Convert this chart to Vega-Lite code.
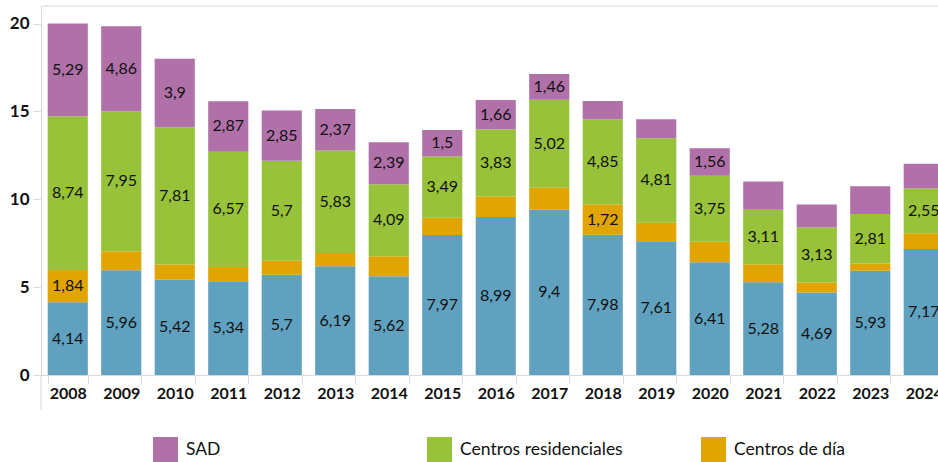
{
  "$schema": "https://vega.github.io/schema/vega-lite/v6.json",
  "width": 897,
  "height": 369,
  "autosize": {"type": "none"},
  "padding": {"left": 41, "top": 6, "right": 0, "bottom": 87},
  "background": "white",
  "config": {
    "view": {"stroke": null},
    "font": "Lato",
    "legend": {
      "orient": "none",
      "legendX": 112,
      "legendY": 431,
      "direction": "horizontal",
      "columns": 4,
      "gridAlign": "all",
      "columnPadding": 78,
      "padding": 0,
      "symbolType": "square",
      "symbolSize": 625,
      "symbolStrokeWidth": 0,
      "symbolOpacity": 1,
      "labelFont": "Lato",
      "labelFontSize": 17.5,
      "labelColor": "#111111",
      "labelOffset": 8,
      "labelLimit": 400,
      "title": null
    }
  },
  "layer": [
    {
      "data": {"name": "tabla", "values": [
        {"year": "2008", "serie": "Teleasistencia", "value": 4.14, "lbl": "4,14"},
        {"year": "2008", "serie": "Centros de día", "value": 1.84, "lbl": "1,84"},
        {"year": "2008", "serie": "Centros residenciales", "value": 8.74, "lbl": "8,74"},
        {"year": "2008", "serie": "SAD", "value": 5.29, "lbl": "5,29"},
        {"year": "2009", "serie": "Teleasistencia", "value": 5.96, "lbl": "5,96"},
        {"year": "2009", "serie": "Centros de día", "value": 1.08, "lbl": ""},
        {"year": "2009", "serie": "Centros residenciales", "value": 7.95, "lbl": "7,95"},
        {"year": "2009", "serie": "SAD", "value": 4.86, "lbl": "4,86"},
        {"year": "2010", "serie": "Teleasistencia", "value": 5.42, "lbl": "5,42"},
        {"year": "2010", "serie": "Centros de día", "value": 0.87, "lbl": ""},
        {"year": "2010", "serie": "Centros residenciales", "value": 7.81, "lbl": "7,81"},
        {"year": "2010", "serie": "SAD", "value": 3.9, "lbl": "3,9"},
        {"year": "2011", "serie": "Teleasistencia", "value": 5.34, "lbl": "5,34"},
        {"year": "2011", "serie": "Centros de día", "value": 0.8, "lbl": ""},
        {"year": "2011", "serie": "Centros residenciales", "value": 6.57, "lbl": "6,57"},
        {"year": "2011", "serie": "SAD", "value": 2.87, "lbl": "2,87"},
        {"year": "2012", "serie": "Teleasistencia", "value": 5.7, "lbl": "5,7"},
        {"year": "2012", "serie": "Centros de día", "value": 0.8, "lbl": ""},
        {"year": "2012", "serie": "Centros residenciales", "value": 5.7, "lbl": "5,7"},
        {"year": "2012", "serie": "SAD", "value": 2.85, "lbl": "2,85"},
        {"year": "2013", "serie": "Teleasistencia", "value": 6.19, "lbl": "6,19"},
        {"year": "2013", "serie": "Centros de día", "value": 0.75, "lbl": ""},
        {"year": "2013", "serie": "Centros residenciales", "value": 5.83, "lbl": "5,83"},
        {"year": "2013", "serie": "SAD", "value": 2.37, "lbl": "2,37"},
        {"year": "2014", "serie": "Teleasistencia", "value": 5.62, "lbl": "5,62"},
        {"year": "2014", "serie": "Centros de día", "value": 1.14, "lbl": ""},
        {"year": "2014", "serie": "Centros residenciales", "value": 4.09, "lbl": "4,09"},
        {"year": "2014", "serie": "SAD", "value": 2.39, "lbl": "2,39"},
        {"year": "2015", "serie": "Teleasistencia", "value": 7.97, "lbl": "7,97"},
        {"year": "2015", "serie": "Centros de día", "value": 0.98, "lbl": ""},
        {"year": "2015", "serie": "Centros residenciales", "value": 3.49, "lbl": "3,49"},
        {"year": "2015", "serie": "SAD", "value": 1.5, "lbl": "1,5"},
        {"year": "2016", "serie": "Teleasistencia", "value": 8.99, "lbl": "8,99"},
        {"year": "2016", "serie": "Centros de día", "value": 1.17, "lbl": ""},
        {"year": "2016", "serie": "Centros residenciales", "value": 3.83, "lbl": "3,83"},
        {"year": "2016", "serie": "SAD", "value": 1.66, "lbl": "1,66"},
        {"year": "2017", "serie": "Teleasistencia", "value": 9.4, "lbl": "9,4"},
        {"year": "2017", "serie": "Centros de día", "value": 1.25, "lbl": ""},
        {"year": "2017", "serie": "Centros residenciales", "value": 5.02, "lbl": "5,02"},
        {"year": "2017", "serie": "SAD", "value": 1.46, "lbl": "1,46"},
        {"year": "2018", "serie": "Teleasistencia", "value": 7.98, "lbl": "7,98"},
        {"year": "2018", "serie": "Centros de día", "value": 1.72, "lbl": "1,72"},
        {"year": "2018", "serie": "Centros residenciales", "value": 4.85, "lbl": "4,85"},
        {"year": "2018", "serie": "SAD", "value": 1.05, "lbl": ""},
        {"year": "2019", "serie": "Teleasistencia", "value": 7.61, "lbl": "7,61"},
        {"year": "2019", "serie": "Centros de día", "value": 1.06, "lbl": ""},
        {"year": "2019", "serie": "Centros residenciales", "value": 4.81, "lbl": "4,81"},
        {"year": "2019", "serie": "SAD", "value": 1.07, "lbl": ""},
        {"year": "2020", "serie": "Teleasistencia", "value": 6.41, "lbl": "6,41"},
        {"year": "2020", "serie": "Centros de día", "value": 1.18, "lbl": ""},
        {"year": "2020", "serie": "Centros residenciales", "value": 3.75, "lbl": "3,75"},
        {"year": "2020", "serie": "SAD", "value": 1.56, "lbl": "1,56"},
        {"year": "2021", "serie": "Teleasistencia", "value": 5.28, "lbl": "5,28"},
        {"year": "2021", "serie": "Centros de día", "value": 1.02, "lbl": ""},
        {"year": "2021", "serie": "Centros residenciales", "value": 3.11, "lbl": "3,11"},
        {"year": "2021", "serie": "SAD", "value": 1.6, "lbl": ""},
        {"year": "2022", "serie": "Teleasistencia", "value": 4.69, "lbl": "4,69"},
        {"year": "2022", "serie": "Centros de día", "value": 0.58, "lbl": ""},
        {"year": "2022", "serie": "Centros residenciales", "value": 3.13, "lbl": "3,13"},
        {"year": "2022", "serie": "SAD", "value": 1.3, "lbl": ""},
        {"year": "2023", "serie": "Teleasistencia", "value": 5.93, "lbl": "5,93"},
        {"year": "2023", "serie": "Centros de día", "value": 0.42, "lbl": ""},
        {"year": "2023", "serie": "Centros residenciales", "value": 2.81, "lbl": "2,81"},
        {"year": "2023", "serie": "SAD", "value": 1.58, "lbl": ""},
        {"year": "2024", "serie": "Teleasistencia", "value": 7.17, "lbl": "7,17"},
        {"year": "2024", "serie": "Centros de día", "value": 0.9, "lbl": ""},
        {"year": "2024", "serie": "Centros residenciales", "value": 2.55, "lbl": "2,55"},
        {"year": "2024", "serie": "SAD", "value": 1.4, "lbl": ""}
      ]},
      "transform": [
        {"calculate": "indexof(['SAD','Centros residenciales','Centros de día','Teleasistencia'], datum.serie)", "as": "orden"},
        {"stack": "value", "groupby": ["year"], "sort": [{"field": "orden", "order": "descending"}], "as": ["v0", "v1"]},
        {"calculate": "(datum.v0 + datum.v1) / 2", "as": "mid"}
      ],
      "encoding": {
        "x": {
          "field": "year",
          "type": "ordinal",
          "scale": {"range": [0, 909.5], "paddingInner": 0.25, "paddingOuter": 0.125},
          "axis": {
            "title": null,
            "labelAngle": 0,
            "tickBand": "extent",
            "tickSize": 8,
            "tickColor": "#d9d9d9",
            "domainColor": "#d9d9d9",
            "labelFont": "Lato",
            "labelFontSize": 16,
            "labelFontWeight": "bold",
            "labelColor": "#111111",
            "labelPadding": 2
          }
        }
      },
      "layer": [
        {
          "mark": {"type": "bar"},
          "encoding": {
            "y": {"field": "v0", "type": "quantitative"},
            "y2": {"field": "v1"},
            "color": {
              "field": "serie",
              "type": "nominal",
              "scale": {
                "domain": ["SAD", "Centros residenciales", "Centros de día", "Teleasistencia"],
                "range": ["#B070A8", "#97C23A", "#E0A500", "#60A1C0"]
              },
              "legend": {}
            }
          }
        },
        {
          "mark": {"type": "text", "font": "Lato", "fontSize": 16, "color": "#111111", "baseline": "middle", "align": "center"},
          "encoding": {
            "y": {"field": "mid", "type": "quantitative"},
            "text": {"field": "lbl"}
          }
        }
      ]
    },
    {
      "data": {"values": [{"year": "2008"}]},
      "mark": {"type": "rule", "color": "#d9d9d9", "strokeWidth": 1},
      "encoding": {
        "y": {"datum": 21, "type": "quantitative"}
      }
    },
    {
      "data": {"values": [{"year": "2008"}]},
      "mark": {"type": "rule", "color": "#d9d9d9", "strokeWidth": 1},
      "encoding": {
        "x": {"field": "year", "type": "ordinal", "bandPosition": -0.1667},
        "y": {"datum": 0, "type": "quantitative"},
        "y2": {"datum": -2}
      }
    }
  ],
  "encoding": {
    "y": {
      "type": "quantitative",
      "scale": {"domain": [0, 21], "nice": false, "zero": true},
      "axis": {
        "title": null,
        "values": [0, 5, 10, 15, 20],
        "grid": false,
        "tickSize": 8,
        "tickColor": "#d9d9d9",
        "domainColor": "#d9d9d9",
        "labelFont": "Lato",
        "labelFontSize": 17,
        "labelFontWeight": "bold",
        "labelColor": "#111111",
        "labelPadding": 4
      }
    }
  }
}
